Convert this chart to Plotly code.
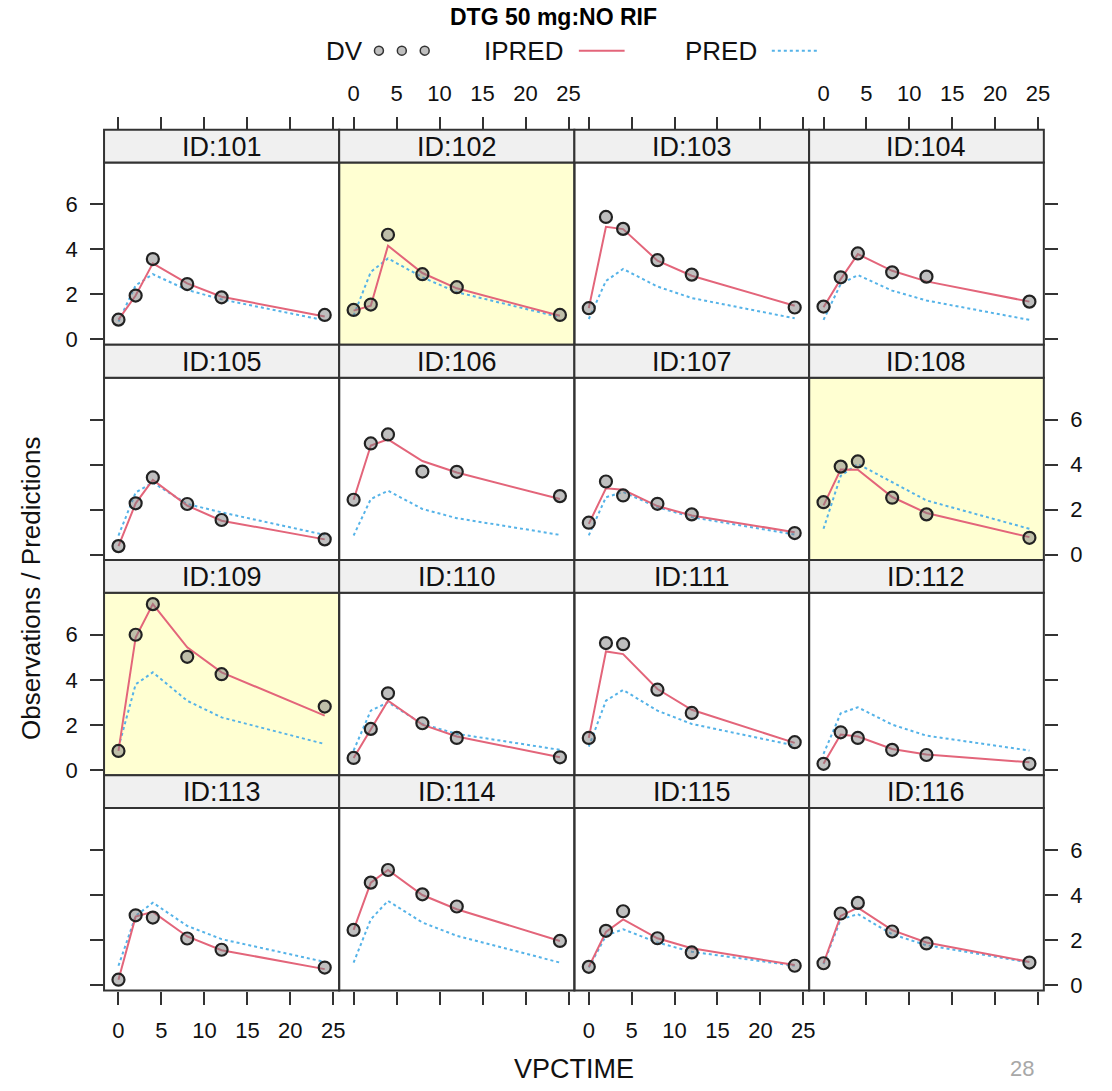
import plotly.graph_objects as go

# ---------------- data ----------------
ids = [101, 102, 103, 104, 105, 106, 107, 108,
       109, 110, 111, 112, 113, 114, 115, 116]
times = [0, 2, 4, 8, 12, 24]
highlight_ids = [102, 108, 109]

dv = [
    [0.88, 1.95, 3.57, 2.46, 1.87, 1.09],
    [1.31, 1.55, 4.65, 2.90, 2.32, 1.09],
    [1.39, 5.44, 4.91, 3.52, 2.88, 1.42],
    [1.46, 2.76, 3.82, 2.98, 2.79, 1.68],
    [0.38, 2.28, 3.43, 2.25, 1.54, 0.68],
    [2.44, 4.94, 5.34, 3.69, 3.68, 2.60],
    [1.42, 3.25, 2.63, 2.26, 1.79, 0.96],
    [2.33, 3.91, 4.14, 2.53, 1.79, 0.75],
    [0.84, 6.00, 7.36, 5.02, 4.25, 2.81],
    [0.53, 1.82, 3.40, 2.07, 1.42, 0.56],
    [1.42, 5.63, 5.58, 3.56, 2.53, 1.23],
    [0.27, 1.67, 1.42, 0.89, 0.66, 0.27],
    [0.24, 3.10, 3.00, 2.07, 1.57, 0.78],
    [2.45, 4.55, 5.11, 4.03, 3.49, 1.96],
    [0.81, 2.41, 3.28, 2.08, 1.45, 0.86],
    [0.97, 3.18, 3.65, 2.38, 1.85, 1.00],
]
ipred = [
    [0.88, 1.95, 3.38, 2.49, 1.90, 1.02],
    [1.28, 1.50, 4.16, 2.95, 2.27, 1.05],
    [1.39, 5.00, 4.90, 3.50, 2.83, 1.50],
    [1.43, 2.68, 3.79, 3.05, 2.58, 1.68],
    [0.38, 2.28, 3.32, 2.18, 1.51, 0.68],
    [2.44, 4.85, 5.12, 4.16, 3.65, 2.47],
    [1.37, 2.95, 2.88, 2.16, 1.74, 1.00],
    [2.19, 3.78, 3.77, 2.56, 1.85, 0.78],
    [0.84, 5.88, 7.36, 5.44, 4.33, 2.41],
    [0.53, 1.82, 3.07, 2.01, 1.48, 0.56],
    [1.42, 5.26, 5.14, 3.59, 2.67, 1.20],
    [0.27, 1.57, 1.48, 0.93, 0.68, 0.34],
    [0.24, 3.04, 3.25, 2.16, 1.55, 0.71],
    [2.45, 4.55, 5.11, 4.00, 3.37, 1.96],
    [0.81, 2.36, 2.92, 2.08, 1.64, 0.89],
    [0.97, 3.07, 3.44, 2.44, 1.89, 1.03],
]
pred = [
    [0.80, 2.40, 2.90, 2.20, 1.78, 0.85],
    [1.06, 3.00, 3.60, 2.76, 2.10, 0.99],
    [0.91, 2.60, 3.13, 2.35, 1.84, 0.94],
    [0.87, 2.46, 2.86, 2.17, 1.73, 0.87],
    [0.85, 2.76, 3.20, 2.25, 1.88, 0.88],
    [0.85, 2.47, 2.84, 2.03, 1.62, 0.88],
    [0.86, 2.55, 2.78, 2.11, 1.67, 0.89],
    [1.15, 3.50, 4.03, 3.22, 2.41, 1.15],
    [1.00, 3.80, 4.33, 3.07, 2.33, 1.15],
    [0.86, 2.63, 3.00, 2.04, 1.60, 0.89],
    [1.03, 3.07, 3.55, 2.63, 2.04, 1.08],
    [0.71, 2.51, 2.78, 2.01, 1.52, 0.86],
    [0.86, 3.07, 3.66, 2.63, 2.04, 1.03],
    [1.00, 2.92, 3.74, 2.78, 2.19, 1.00],
    [0.78, 2.19, 2.48, 1.89, 1.48, 0.86],
    [0.93, 2.92, 3.15, 2.26, 1.77, 1.00],
]
x_ticks = [0, 5, 10, 15, 20, 25]
y_ticks = [0, 2, 4, 6]
title_text = "DTG 50 mg:NO RIF"
x_title = "VPCTIME"
y_title = "Observations / Predictions"
page_number = "28"

# ---------------- style / layout ----------------
W, H = 1112, 1091
FONT = "Liberation Sans, Arial, sans-serif"
C_IPRED = "#E3657A"
C_PRED = "#55B3E8"
C_EDGE = "#333333"
C_STRIP = "#F0F0F0"
C_HL = "#FFFFD2"
x_range = [-1.68, 25.68]
y_range = [-0.24, 7.86]

col_edges = [104.6, 341.0, 577.5, 813.5, 1049.5]
row_top0 = 130.5
row_h = 216.6
strip_h = 33.0
TICK_SIZE = 22


def px(x):
    return x / W


def py(y):
    return 1 - y / H


fig = go.Figure()
shapes = []
annotations = []
layout_axes = {}

for i, pid in enumerate(ids):
    r, c = divmod(i, 4)
    k = "" if i == 0 else str(i + 1)
    x0, x1 = col_edges[c], col_edges[c + 1]
    rt = row_top0 + r * row_h
    sb = rt + strip_h
    pb = rt + row_h

    xa = dict(domain=[px(x0), px(x1)], range=x_range, showgrid=False,
              zeroline=False, showline=False, tickvals=x_ticks,
              tickfont=dict(family=FONT, size=TICK_SIZE, color="#111"),
              ticklen=13, tickwidth=2, tickcolor=C_EDGE,
              ticklabelstandoff=7)
    if r == 0:
        xa.update(side="top", anchor="free", position=py(rt), ticks="outside",
                  showticklabels=(c in (1, 3)))
    elif r == 3:
        xa.update(side="bottom", anchor="y" + k, ticks="outside",
                  showticklabels=(c in (0, 2)))
    else:
        xa.update(anchor="y" + k, ticks="", showticklabels=False)

    ya = dict(domain=[py(pb), py(sb)], range=y_range, showgrid=False,
              zeroline=False, showline=False, tickvals=y_ticks,
              tickfont=dict(family=FONT, size=TICK_SIZE, color="#111"),
              ticklen=13, tickwidth=2, tickcolor=C_EDGE,
              ticklabelstandoff=8, anchor="x" + k)
    if c == 0:
        ya.update(side="left", ticks="outside", showticklabels=(r in (0, 2)))
    elif c == 3:
        ya.update(side="right", ticks="outside", showticklabels=(r in (1, 3)))
    else:
        ya.update(ticks="", showticklabels=False)

    layout_axes["xaxis" + k] = xa
    layout_axes["yaxis" + k] = ya

    # panel background (highlight)
    if pid in highlight_ids:
        shapes.append(dict(type="rect", xref="paper", yref="paper",
                           x0=px(x0), x1=px(x1), y0=py(pb), y1=py(sb),
                           fillcolor=C_HL, line=dict(width=0), layer="below"))
    # panel border
    shapes.append(dict(type="rect", xref="paper", yref="paper",
                       x0=px(x0), x1=px(x1), y0=py(pb), y1=py(sb),
                       fillcolor="rgba(0,0,0,0)",
                       line=dict(color=C_EDGE, width=2), layer="above"))
    # strip
    shapes.append(dict(type="rect", xref="paper", yref="paper",
                       x0=px(x0), x1=px(x1), y0=py(sb), y1=py(rt),
                       fillcolor=C_STRIP,
                       line=dict(color=C_EDGE, width=2), layer="above"))
    annotations.append(dict(text="ID:%d" % pid, xref="paper", yref="paper",
                            x=px((x0 + x1) / 2), y=py(rt + strip_h / 2 + 0.5),
                            xanchor="center", yanchor="middle", showarrow=False,
                            font=dict(family=FONT, size=27, color="#111")))

    xref, yref = "x" + k, "y" + k
    fig.add_trace(go.Scatter(x=times, y=pred[i], mode="lines",
                             line=dict(color=C_PRED, width=2, dash="dot"),
                             xaxis=xref, yaxis=yref, hoverinfo="skip"))
    fig.add_trace(go.Scatter(x=times, y=ipred[i], mode="lines",
                             line=dict(color=C_IPRED, width=2),
                             xaxis=xref, yaxis=yref, hoverinfo="skip"))
    fig.add_trace(go.Scatter(x=times, y=dv[i], mode="markers",
                             marker=dict(size=12, color="rgba(128,128,128,0.5)",
                                         line=dict(color="#222", width=2.2)),
                             xaxis=xref, yaxis=yref, cliponaxis=False))

# ---------------- title, key, axis titles ----------------
annotations.append(dict(text="<b>" + title_text + "</b>", xref="paper", yref="paper",
                        x=px(557), y=py(17), xanchor="center", yanchor="middle",
                        showarrow=False, font=dict(family=FONT, size=23, color="#000")))
key_y = 51
annotations.append(dict(text="DV", xref="paper", yref="paper", x=px(367), y=py(key_y),
                        xanchor="right", yanchor="middle", showarrow=False,
                        font=dict(family=FONT, size=26, color="#111")))
for cx in (381, 404, 427):
    shapes.append(dict(type="circle", xref="paper", yref="paper",
                       x0=px(cx - 4.5), x1=px(cx + 4.5), y0=py(key_y + 4.5), y1=py(key_y - 4.5),
                       fillcolor="#BFBFBF", line=dict(color="#333", width=1.5)))
annotations.append(dict(text="IPRED", xref="paper", yref="paper", x=px(568), y=py(key_y),
                        xanchor="right", yanchor="middle", showarrow=False,
                        font=dict(family=FONT, size=26, color="#111")))
shapes.append(dict(type="line", xref="paper", yref="paper", x0=px(582), x1=px(628),
                   y0=py(key_y), y1=py(key_y), line=dict(color=C_IPRED, width=2)))
annotations.append(dict(text="PRED", xref="paper", yref="paper", x=px(763), y=py(key_y),
                        xanchor="right", yanchor="middle", showarrow=False,
                        font=dict(family=FONT, size=26, color="#111")))
shapes.append(dict(type="line", xref="paper", yref="paper", x0=px(776), x1=px(822),
                   y0=py(key_y), y1=py(key_y), line=dict(color=C_PRED, width=2, dash="dot")))

annotations.append(dict(text=x_title, xref="paper", yref="paper", x=px(577), y=py(1076),
                        xanchor="center", yanchor="middle", showarrow=False,
                        font=dict(family=FONT, size=27, color="#111")))
annotations.append(dict(text=y_title, xref="paper", yref="paper", x=px(31), y=py(592),
                        xanchor="center", yanchor="middle", showarrow=False, textangle=-90,
                        font=dict(family=FONT, size=26, color="#111")))
annotations.append(dict(text=page_number, xref="paper", yref="paper", x=px(1028), y=py(1090),
                        xanchor="center", yanchor="bottom", showarrow=False,
                        font=dict(family=FONT, size=22, color="#A8A8A8")))

fig.update_layout(width=W, height=H, margin=dict(l=0, r=0, t=0, b=0),
                  paper_bgcolor="white", plot_bgcolor="rgba(0,0,0,0)",
                  showlegend=False, shapes=shapes, annotations=annotations,
                  font=dict(family=FONT), **layout_axes)

fig.write_html("out.html")
